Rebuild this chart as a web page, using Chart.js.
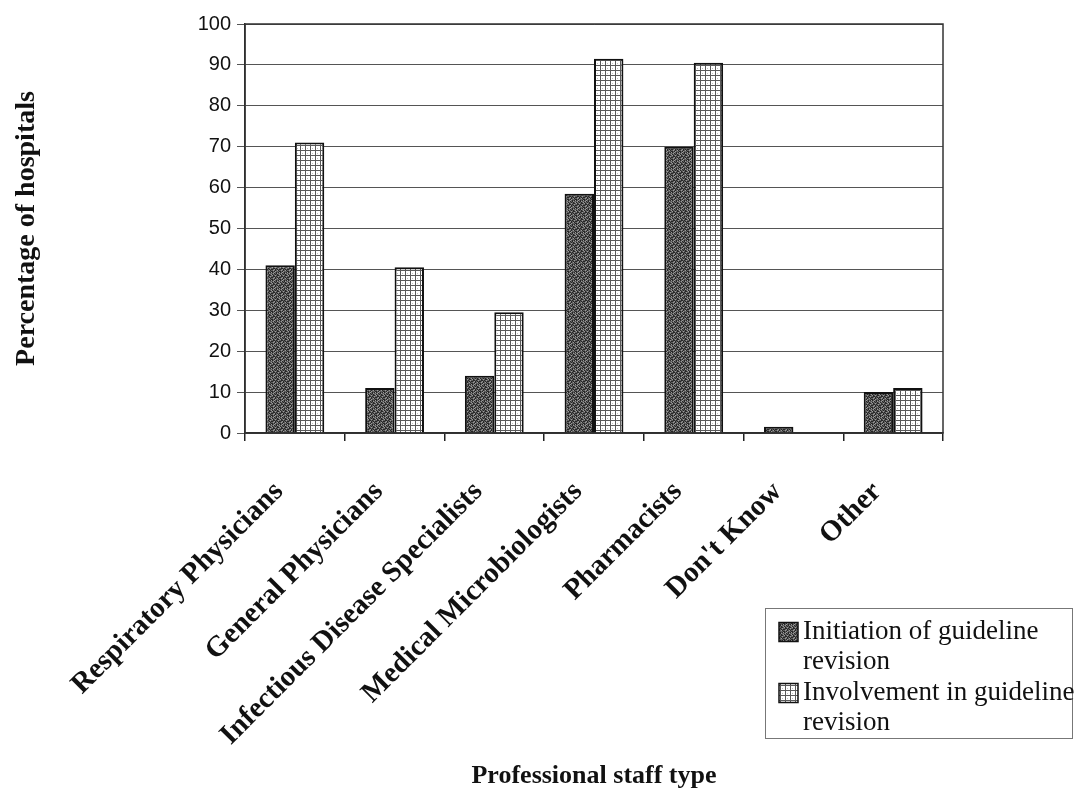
<!DOCTYPE html>
<html>
<head>
<meta charset="utf-8">
<style>
  html, body { margin: 0; padding: 0; background: #ffffff; }
  #wrap { position: relative; width: 1074px; height: 796px; }
  canvas { display: block; }
</style>
<script src="https://cdn.jsdelivr.net/npm/chart.js@4.4.1/dist/chart.umd.min.js"></script>
</head>
<body>
<div id="wrap"><canvas id="chart" width="1074" height="796"></canvas></div>
<script>
// Staff categories along the x axis
const categories = [
  'Respiratory Physicians',
  'General Physicians',
  'Infectious Disease Specialists',
  'Medical Microbiologists',
  'Pharmacists',
  "Don't Know",
  'Other'
];

// Percentage of hospitals per staff type
const initiationValues = [41, 11, 14, 58.5, 70, 1.5, 10];
const involvementValues = [71, 40.5, 29.5, 91.5, 90.5, 0, 11];

const seriesLabels = ['Initiation of guideline revision', 'Involvement in guideline revision'];
const yTicks = [0, 10, 20, 30, 40, 50, 60, 70, 80, 90, 100];

const axisTitleX = 'Professional staff type';
const axisTitleY = 'Percentage of hospitals';

// Fill patterns: dark stipple and light cross-hatched grid
function makeStipple() {
  // 8x8 dither map: 0 = mid grey, 1 = dark, 2 = light
  const map = [
    '10201012',
    '02101200',
    '10010102',
    '21020110',
    '01101020',
    '10210101',
    '02010210',
    '10120001'
  ];
  const shades = ['#5e5e5e', '#262626', '#9a9a9a'];
  const c = document.createElement('canvas');
  c.width = 8; c.height = 8;
  const g = c.getContext('2d');
  for (let y = 0; y < 8; y++) {
    for (let x = 0; x < 8; x++) {
      g.fillStyle = shades[+map[y][x]];
      g.fillRect(x, y, 1, 1);
    }
  }
  return g.createPattern(c, 'repeat');
}

function makeGrid() {
  const c = document.createElement('canvas');
  c.width = 5; c.height = 5;
  const g = c.getContext('2d');
  g.fillStyle = '#ffffff';
  g.fillRect(0, 0, 5, 5);
  g.fillStyle = '#5a5a5a';
  g.fillRect(0, 0, 5, 1);
  g.fillRect(0, 0, 1, 5);
  g.fillStyle = '#c0c0c0';
  g.fillRect(2, 3, 1, 1);
  return g.createPattern(c, 'repeat');
}

const stipple = makeStipple();
const grid = makeGrid();

const serif = '"Liberation Serif", "Times New Roman", serif';
const sans = '"Liberation Sans", Arial, sans-serif';

// Frame around the plotting area (top and right edges)
const framePlugin = {
  id: 'frame',
  afterDatasetsDraw(chart) {
    const a = chart.chartArea;
    const ctx = chart.ctx;
    ctx.save();
    ctx.strokeStyle = '#333333';
    ctx.lineWidth = 1.5;
    ctx.strokeRect(a.left, a.top, a.right - a.left, a.bottom - a.top);
    ctx.restore();
  }
};

// Boxed legend with wrapped entries
function wrapText(ctx, text, maxW) {
  const words = text.split(' ');
  const lines = [];
  let cur = '';
  words.forEach(w => {
    const t = cur ? cur + ' ' + w : w;
    if (ctx.measureText(t).width > maxW && cur) { lines.push(cur); cur = w; }
    else cur = t;
  });
  if (cur) lines.push(cur);
  return lines;
}

const legendPlugin = {
  id: 'boxLegend',
  afterDraw(chart) {
    const ctx = chart.ctx;
    const box = { x: 765, y: 608, w: 307, h: 130 };
    ctx.save();
    ctx.fillStyle = '#ffffff';
    ctx.fillRect(box.x, box.y, box.w, box.h);
    ctx.strokeStyle = '#777777';
    ctx.lineWidth = 1;
    ctx.strokeRect(box.x + 0.5, box.y + 0.5, box.w, box.h);
    ctx.font = '27px ' + serif;
    ctx.textBaseline = 'middle';
    ctx.textAlign = 'left';
    const textX = 803;
    const lineH = 30;
    let y = 632;
    chart.data.datasets.forEach(ds => {
      const sw = 19;
      ctx.fillStyle = ds.backgroundColor;
      ctx.fillRect(779, y - sw / 2, sw, sw);
      ctx.strokeStyle = '#111111';
      ctx.lineWidth = 1.5;
      ctx.strokeRect(779, y - sw / 2, sw, sw);
      ctx.fillStyle = '#111111';
      const lines = wrapText(ctx, ds.label, 285);
      lines.forEach((ln, i) => ctx.fillText(ln, textX, y + i * lineH));
      y += lines.length * lineH + 1;
    });
    ctx.restore();
  }
};

new Chart(document.getElementById('chart'), {
  type: 'bar',
  data: {
    labels: categories,
    datasets: [
      {
        label: seriesLabels[0],
        data: initiationValues,
        backgroundColor: stipple,
        borderColor: '#111111',
        borderWidth: 2,
        borderSkipped: 'bottom'
      },
      {
        label: seriesLabels[1],
        data: involvementValues,
        backgroundColor: grid,
        borderColor: '#111111',
        borderWidth: 2,
        borderSkipped: 'bottom'
      }
    ]
  },
  options: {
    responsive: false,
    animation: false,
    devicePixelRatio: 1,
    layout: { padding: { top: 24, right: 131, bottom: 0, left: 0 } },
    datasets: { bar: { categoryPercentage: 0.59, barPercentage: 1.0 } },
    plugins: {
      legend: { display: false },
      tooltip: { enabled: false }
    },
    scales: {
      x: {
        afterFit(scale) { scale.height = 796 - 433; },
        grid: {
          offset: true,
          drawOnChartArea: false,
          drawTicks: true,
          tickLength: 8,
          color: '#222222',
          lineWidth: 1.5
        },
        border: { color: '#222222', width: 1.5 },
        ticks: {
          minRotation: 45,
          maxRotation: 45,
          autoSkip: false,
          padding: 34,
          labelOffset: -16,
          color: '#111111',
          font: { family: serif, size: 29, weight: 'bold' }
        },
        title: {
          display: true,
          text: axisTitleX,
          color: '#111111',
          padding: { top: 0, bottom: 4 },
          font: { family: serif, size: 26, weight: 'bold' }
        }
      },
      y: {
        min: 0,
        max: 100,
        afterFit(scale) { scale.width = 245; },
        afterBuildTicks(scale) { scale.ticks = yTicks.map(v => ({ value: v })); },
        grid: {
          color: '#555555',
          lineWidth: 1,
          tickLength: 8,
          tickColor: '#555555'
        },
        border: { color: '#222222', width: 1.5 },
        ticks: {
          padding: 6,
          color: '#111111',
          font: { family: sans, size: 20 }
        },
        title: {
          display: true,
          text: axisTitleY,
          color: '#111111',
          padding: { top: 10, bottom: 0 },
          font: { family: serif, size: 28, weight: 'bold' }
        }
      }
    }
  },
  plugins: [framePlugin, legendPlugin]
});
</script>
</body>
</html>
